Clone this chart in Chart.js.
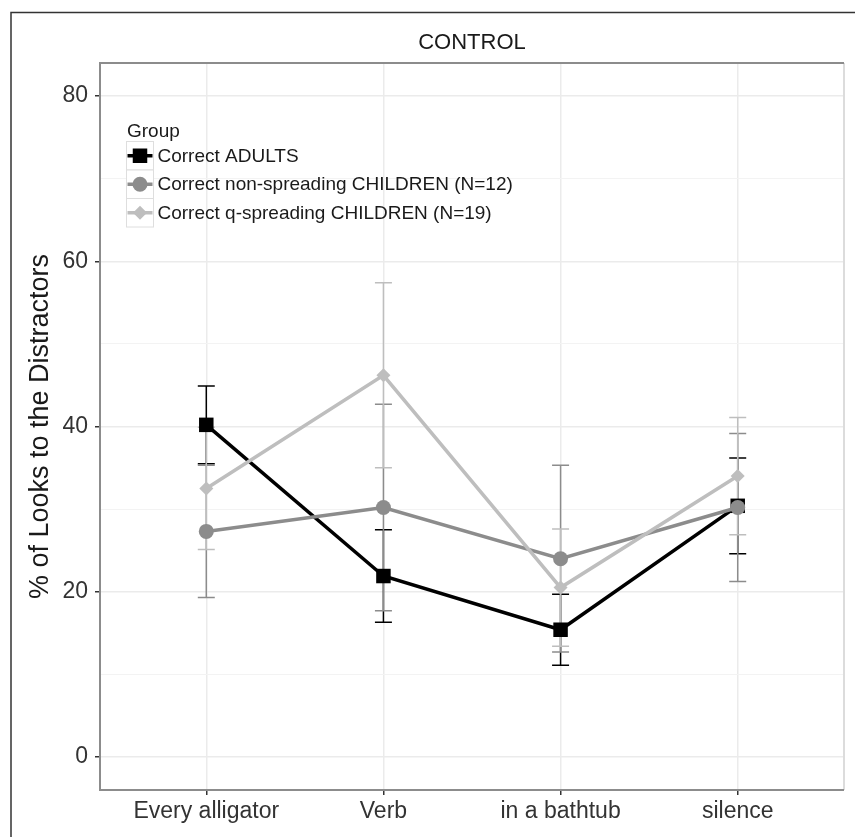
<!DOCTYPE html>
<html lang="en">
<head>
<meta charset="UTF-8">
<title>CONTROL</title>
<script src="https://cdn.jsdelivr.net/npm/chart.js@4"></script>
<style>
  body { margin: 0; background: #ffffff; }
  canvas { display: block; }
</style>
</head>
<body>
<canvas id="chart" width="855" height="837"></canvas>
<script>
// values (% of looks, mean and half error bar)
const categories = ['Every alligator', 'Verb', 'in a bathtub', 'silence'];
const groupLabels = ['Correct ADULTS', 'Correct non-spreading CHILDREN (N=12)', 'Correct q-spreading CHILDREN (N=19)'];
const adultsMean = [40.2, 21.9, 15.4, 30.4];
const adultsErr = [4.7, 5.6, 4.3, 5.8];
const nonSpreadMean = [27.3, 30.2, 24.0, 30.2];
const nonSpreadErr = [8.0, 12.5, 11.3, 8.95];
const qSpreadMean = [32.5, 46.2, 20.5, 34.0];
const qSpreadErr = [7.4, 11.2, 7.1, 7.1];
const yTicks = [0, 20, 40, 60, 80];
const yMinorTicks = [10, 30, 50, 70];

const FONT = "'Liberation Sans', Arial, sans-serif";

function points(means) {
  return means.map((v, i) => ({ x: i, y: v }));
}

function makeSet(label, means, errs, color, style, radius, order) {
  return {
    label: label,
    data: points(means),
    err: errs,
    borderColor: color,
    backgroundColor: color,
    borderWidth: 3.5,
    pointStyle: style,
    pointRadius: radius,
    pointBorderWidth: 0,
    pointBackgroundColor: color,
    tension: 0,
    order: order
  };
}

// error bars, drawn under the lines
const errorBars = {
  id: 'errorBars',
  beforeDatasetsDraw(chart) {
    const { ctx, scales: { x, y } } = chart;
    ctx.save();
    ctx.lineWidth = 1.5;
    chart.data.datasets.forEach(ds => {
      ctx.strokeStyle = ds.borderColor;
      ds.data.forEach((p, i) => {
        const px = x.getPixelForValue(p.x);
        const top = y.getPixelForValue(p.y + ds.err[i]);
        const bot = y.getPixelForValue(p.y - ds.err[i]);
        ctx.beginPath();
        ctx.moveTo(px, top); ctx.lineTo(px, bot);
        ctx.moveTo(px - 8.5, top); ctx.lineTo(px + 8.5, top);
        ctx.moveTo(px - 8.5, bot); ctx.lineTo(px + 8.5, bot);
        ctx.stroke();
      });
    });
    ctx.restore();
  }
};

function drawMarker(ctx, style, x, y, r) {
  ctx.beginPath();
  if (style === 'rect') {
    const s = r * Math.SQRT1_2;
    ctx.rect(x - s, y - s, 2 * s, 2 * s);
  } else if (style === 'rectRot') {
    ctx.moveTo(x - r, y); ctx.lineTo(x, y - r); ctx.lineTo(x + r, y); ctx.lineTo(x, y + r);
    ctx.closePath();
  } else {
    ctx.arc(x, y, r, 0, Math.PI * 2);
  }
  ctx.fill();
}

// frame, panel border, facet title and the legend inside the panel
const decorations = {
  id: 'decorations',
  afterDraw(chart) {
    const { ctx, chartArea: a } = chart;
    ctx.save();
    // outer frame
    ctx.strokeStyle = '#333333';
    ctx.lineWidth = 1.5;
    ctx.strokeRect(11, 12.5, 900, 900);
    // panel border
    ctx.lineWidth = 2;
    ctx.strokeStyle = '#dcdcdc';
    ctx.beginPath(); ctx.moveTo(a.right, a.top); ctx.lineTo(a.right, a.bottom); ctx.stroke();
    ctx.strokeStyle = '#8c8c8c';
    ctx.beginPath();
    ctx.moveTo(a.right, a.top); ctx.lineTo(a.left, a.top); ctx.lineTo(a.left, a.bottom); ctx.lineTo(a.right, a.bottom);
    ctx.stroke();
    // facet title
    ctx.fillStyle = '#1a1a1a';
    ctx.font = '22px ' + FONT;
    ctx.textAlign = 'center';
    ctx.textBaseline = 'middle';
    ctx.fillText('CONTROL', (a.left + a.right) / 2, 42.5);
    // legend
    const lx = a.left + 26.5, ly = a.top + 78.5, kw = 27, kh = 28.5;
    ctx.textAlign = 'left';
    ctx.textBaseline = 'alphabetic';
    ctx.font = '19px ' + FONT;
    ctx.fillStyle = '#1a1a1a';
    ctx.fillText('Group', lx + 0.5, ly - 5);
    chart.data.datasets.forEach((ds, i) => {
      const ky = ly + i * kh;
      ctx.fillStyle = '#ffffff';
      ctx.fillRect(lx, ky, kw, kh);
      ctx.strokeStyle = '#dedede';
      ctx.lineWidth = 1;
      ctx.strokeRect(lx, ky, kw, kh);
      const cy = ky + kh / 2;
      ctx.strokeStyle = ds.borderColor;
      ctx.lineWidth = 3.5;
      ctx.beginPath(); ctx.moveTo(lx + 1, cy); ctx.lineTo(lx + kw - 1, cy); ctx.stroke();
      ctx.fillStyle = ds.borderColor;
      drawMarker(ctx, ds.pointStyle, lx + kw / 2, cy, ds.pointRadius);
      ctx.fillStyle = '#1a1a1a';
      ctx.textBaseline = 'middle';
      ctx.fillText(ds.label, lx + kw + 4, cy + 1);
    });
    ctx.restore();
  }
};

new Chart(document.getElementById('chart'), {
  type: 'line',
  data: {
    datasets: [
      makeSet(groupLabels[0], adultsMean, adultsErr, '#000000', 'rect', 10.25, 3),
      makeSet(groupLabels[1], nonSpreadMean, nonSpreadErr, '#8c8c8c', 'circle', 7.5, 2),
      makeSet(groupLabels[2], qSpreadMean, qSpreadErr, '#bebebe', 'rectRot', 7, 1)
    ]
  },
  options: {
    responsive: false,
    animation: false,
    devicePixelRatio: 1,
    events: [],
    layout: { padding: { top: 63, right: 11, left: 0, bottom: 0 } },
    plugins: {
      legend: { display: false },
      tooltip: { enabled: false },
      title: { display: false }
    },
    scales: {
      x: {
        type: 'linear',
        min: -0.6,
        max: 3.6,
        afterBuildTicks: scale => { scale.ticks = categories.map((c, i) => ({ value: i })); },
        afterFit: scale => { scale.height = 47; },
        border: { display: false },
        grid: { color: '#ebebeb', lineWidth: 1.5, tickLength: 5, tickColor: '#333333', tickWidth: 1.5 },
        ticks: {
          autoSkip: false,
          maxRotation: 0,
          padding: 3,
          color: '#333333',
          font: { family: FONT, size: 23 },
          callback: v => categories[v]
        }
      },
      y: {
        min: -4,
        max: 84,
        afterBuildTicks: scale => {
          scale.ticks = yTicks.concat(yMinorTicks).sort((p, q) => p - q).map(v => ({ value: v }));
        },
        afterFit: scale => { scale.width = 100; },
        border: { display: false },
        grid: {
          color: c => yTicks.includes(c.tick.value) ? '#ebebeb' : '#f3f3f3',
          lineWidth: c => yTicks.includes(c.tick.value) ? 1.5 : 1,
          tickLength: 5,
          tickWidth: 1.5,
          tickColor: c => yTicks.includes(c.tick.value) ? '#333333' : 'rgba(0,0,0,0)'
        },
        ticks: {
          padding: 7,
          color: '#333333',
          font: { family: FONT, size: 23 },
          callback: v => yTicks.includes(v) ? String(v) : ''
        },
        title: {
          display: true,
          text: '% of Looks to the Distractors',
          color: '#1a1a1a',
          font: { family: FONT, size: 27 },
          padding: { top: 24, bottom: 0 }
        }
      }
    }
  },
  plugins: [errorBars, decorations]
});
</script>
</body>
</html>
